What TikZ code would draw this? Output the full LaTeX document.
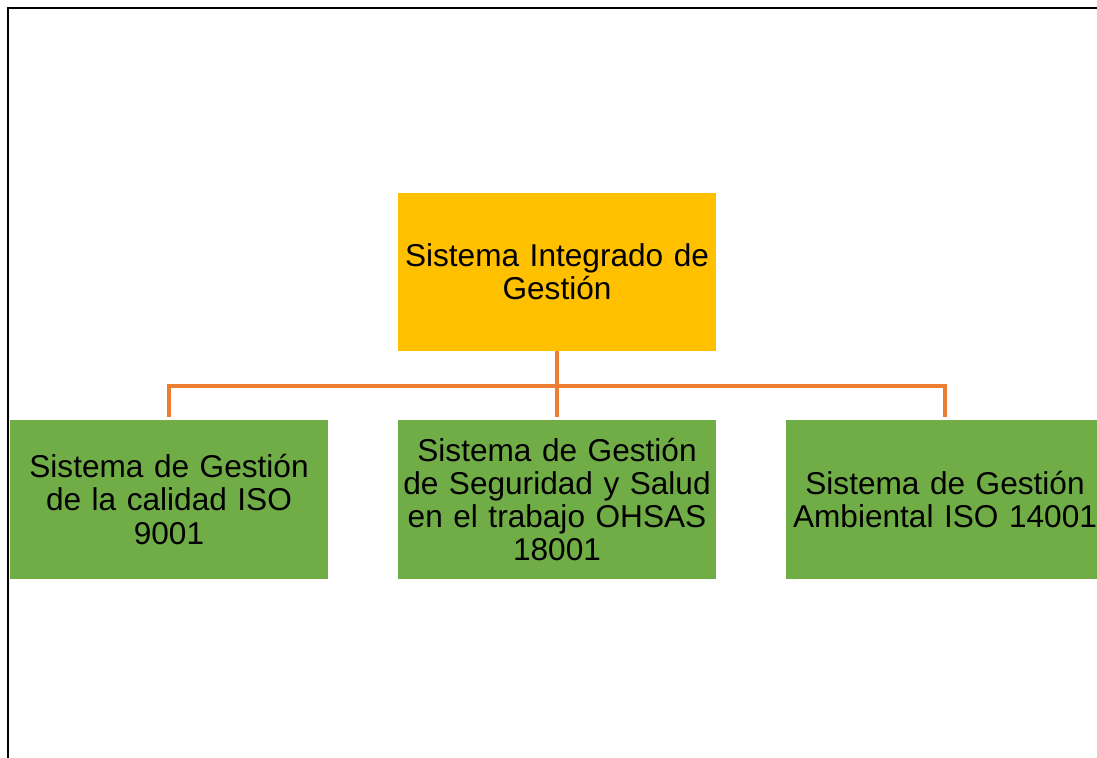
\documentclass[tikz,border=0pt]{standalone}
\usepackage{fontspec}
\setmainfont{Liberation Sans}
\definecolor{sigyel}{HTML}{FFC000}
\definecolor{siggrn}{HTML}{70AD47}
\definecolor{sigorg}{HTML}{ED7D31}
\tikzstyle{cyel}=[rectangle, fill=sigyel, minimum width=159pt, minimum height=79pt, text width=158pt, align=center, inner sep=0pt, font=\fontsize{15.8}{16.6}\selectfont]
\tikzstyle{cgrn}=[rectangle, fill=siggrn, minimum width=159pt, minimum height=79pt, text width=158pt, align=center, inner sep=0pt, font=\fontsize{15.8}{16.6}\selectfont]
\tikzstyle{link}=[draw=sigorg, line width=2pt, shorten >=1.5pt]

\begin{document}
\begin{tikzpicture}[x=0.5pt, y=-0.5pt]

\clip (0,0) rectangle (1097,758);

% frame
\draw[line width=1pt] (8,758) -- (8,8) -- (1097,8);

\node[cyel] (top) at (557,272) {Sistema Integrado de\\Gestión};

\node[cgrn] (qual) at (169,499.5) {Sistema de Gestión\\de la calidad ISO\\9001};
\node[cgrn] (ohsas) at (557,499.5) {Sistema de Gestión\\de Seguridad y Salud\\en el trabajo OHSAS\\18001};
\node[cgrn] (amb) at (945,499.5) {Sistema de Gestión\\Ambiental ISO 14001};

\draw[link] (top.south) -- (ohsas.north);
\draw[link] (top.south) -- ++(0,35) -| (qual.north);
\draw[link] (top.south) -- ++(0,35) -| (amb.north);

\end{tikzpicture}
\end{document}
